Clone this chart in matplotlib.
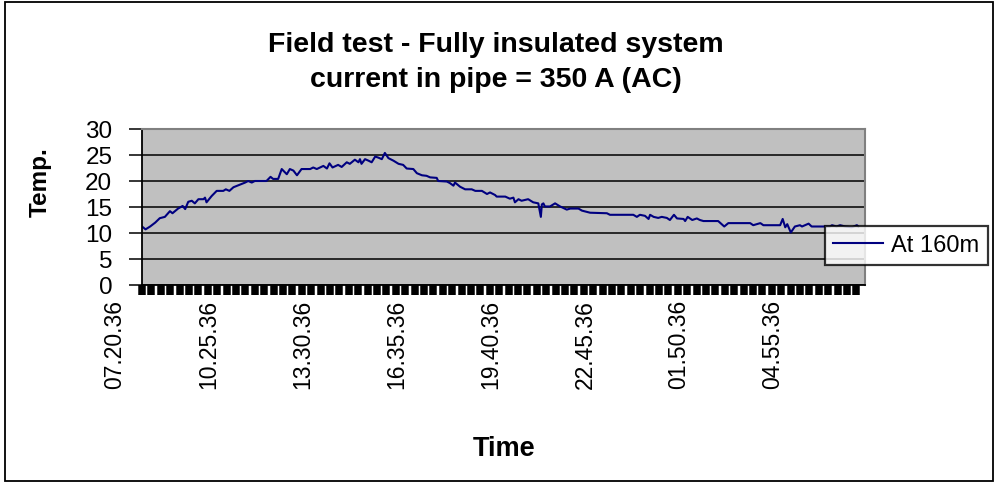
import matplotlib
matplotlib.use("Agg")
import matplotlib.pyplot as plt
from matplotlib.patches import Rectangle
from matplotlib.ticker import MultipleLocator, FixedLocator
from matplotlib.transforms import ScaledTranslation

# Minutes elapsed since the first reading (07.20.36)
elapsed_min = [
    0, 7, 16, 26, 35, 45, 55, 60, 71, 80, 85, 91, 98, 104, 111, 121, 124, 127,
    137, 147, 160, 165, 172, 180, 193, 203, 209, 216, 222, 245, 253, 258, 268,
    275, 285, 291, 298, 305, 314, 331, 337, 344, 357, 364, 369, 375, 386, 393,
    403, 409, 419, 426, 429, 432, 439, 446, 452, 459, 465, 472, 478, 485, 495,
    505, 514, 521, 534, 541, 551, 560, 567, 580, 583, 600, 606, 613, 616, 626,
    636, 649, 656, 669, 679, 685, 695, 698, 715, 724, 731, 734, 741, 747, 760,
    770, 780, 785, 787, 790, 793, 803, 813, 823, 836, 843, 859, 866, 882, 915,
    921, 967, 974, 980, 990, 997, 1000, 1007, 1016, 1023, 1033, 1039, 1047,
    1053, 1066, 1069, 1074, 1083, 1092, 1098, 1105, 1134, 1146, 1154, 1197,
    1203, 1217, 1223, 1256, 1261, 1266, 1270, 1277, 1285, 1295, 1299, 1305,
    1312, 1318, 1354, 1358, 1367, 1374, 1384, 1397, 1407, 1410,
]

# Temperature at 160 m
temp_160m = [
    11.25, 10.7, 11.25, 12.0, 12.85, 13.1, 14.2, 13.8, 14.7, 15.2, 14.6, 16.0,
    16.2, 15.7, 16.5, 16.5, 16.8, 15.9, 17.1, 18.1, 18.1, 18.4, 18.1, 18.8,
    19.3, 19.7, 20.0, 19.7, 20.0, 20.0, 20.8, 20.4, 20.4, 22.3, 21.3, 22.3,
    22.0, 21.1, 22.3, 22.3, 22.6, 22.3, 22.9, 22.4, 23.4, 22.6, 23.1, 22.7,
    23.6, 23.3, 24.1, 23.6, 24.2, 23.3, 24.2, 23.9, 23.6, 24.7, 24.5, 24.2,
    25.4, 24.4, 23.9, 23.3, 23.1, 22.4, 22.3, 21.5, 21.1, 21.0, 20.7, 20.6,
    20.0, 19.9, 19.6, 19.1, 19.7, 18.9, 18.4, 18.4, 18.1, 18.1, 17.5, 17.8,
    17.3, 17.0, 17.0, 16.6, 16.8, 15.9, 16.5, 16.2, 16.5, 15.9, 15.7, 13.1,
    15.5, 15.7, 15.1, 15.1, 15.7, 15.1, 14.5, 14.7, 14.7, 14.3, 13.9, 13.8,
    13.5, 13.5, 13.1, 13.5, 13.3, 12.7, 13.5, 13.1, 12.9, 13.1, 12.9, 12.5,
    13.5, 12.8, 12.7, 12.3, 13.1, 12.5, 12.8, 12.5, 12.3, 12.3, 11.25, 11.9,
    11.9, 11.5, 11.9, 11.5, 11.5, 12.7, 11.1, 11.7, 10.1, 11.25, 11.5, 11.25,
    11.5, 11.8, 11.25, 11.25, 11.5, 11.25, 11.5, 11.25, 11.1, 11.5, 11.25,
]

# Category labels shown on the time axis, one every 185 minutes
label_min = [0, 185, 370, 555, 740, 925, 1110, 1295]
time_labels = ["07.20.36", "10.25.36", "13.30.36", "16.35.36",
               "19.40.36", "22.45.36", "01.50.36", "04.55.36"]

plt.rcParams["font.family"] = ["Liberation Sans", "DejaVu Sans"]

fig = plt.figure(figsize=(9.98, 4.85), dpi=100)
ax = fig.add_axes([142 / 998, 1 - 286 / 485, 723 / 998, 156 / 485])

ax.set_facecolor("#c0c0c0")
ax.plot(elapsed_min, temp_160m, color="#000080", linewidth=1.5, label="At 160m")

ax.set_xlim(0, 1423)
ax.set_ylim(0, 30)

# y axis: black gridlines every 5 degrees
ax.set_yticks(range(0, 31, 5))
ax.grid(axis="y", color="black", linewidth=1.1)
ax.set_axisbelow(True)
ax.tick_params(axis="y", direction="out", length=9.4, width=1.1,
               labelsize=17.5, pad=12)

# x axis: dense category ticks, labels every 185 minutes
ax.xaxis.set_major_locator(FixedLocator(label_min))
ax.set_xticklabels(time_labels, rotation=90, fontsize=16.5)
ax.xaxis.set_minor_locator(MultipleLocator(18.5))
ax.tick_params(axis="x", which="both", direction="out", length=7,
               width=5.4, pad=3)
shift = ScaledTranslation(-27 / 100, 0, fig.dpi_scale_trans)
for lab in ax.get_xticklabels():
    lab.set_transform(lab.get_transform() + shift)

for side in ["left", "bottom"]:
    ax.spines[side].set_color("black")
    ax.spines[side].set_linewidth(1.3)
for side in ["top", "right"]:
    ax.spines[side].set_color("#808080")
    ax.spines[side].set_linewidth(1.5)

# titles
fig.text(0.497, 1 - 45 / 485, "Field test - Fully insulated system",
         ha="center", va="center", fontsize=20.5, fontweight="bold")
fig.text(0.497, 1 - 80 / 485, "current in pipe = 350 A (AC)",
         ha="center", va="center", fontsize=20.5, fontweight="bold")
fig.text(504 / 998, 1 - 449 / 485, "Time", ha="center", va="center",
         fontsize=19.5, fontweight="bold")
fig.text(40 / 998, 1 - 182 / 485, "Temp.", ha="center", va="center",
         rotation=90, fontsize=17.5, fontweight="bold")

leg = fig.legend(loc="upper left", bbox_to_anchor=(825 / 998, 1 - 227 / 485),
                 borderaxespad=0, fontsize=17, handlelength=2.1,
                 handletextpad=0.35, borderpad=0.35, fancybox=False)
leg.get_frame().set_edgecolor("black")
leg.get_frame().set_linewidth(1.6)

# outer chart border
fig.patches.append(Rectangle((5 / 998, 3 / 485), 988 / 998, 479 / 485,
                             transform=fig.transFigure, fill=False,
                             edgecolor="black", linewidth=1.3))

fig.savefig("out.png", dpi=100)
